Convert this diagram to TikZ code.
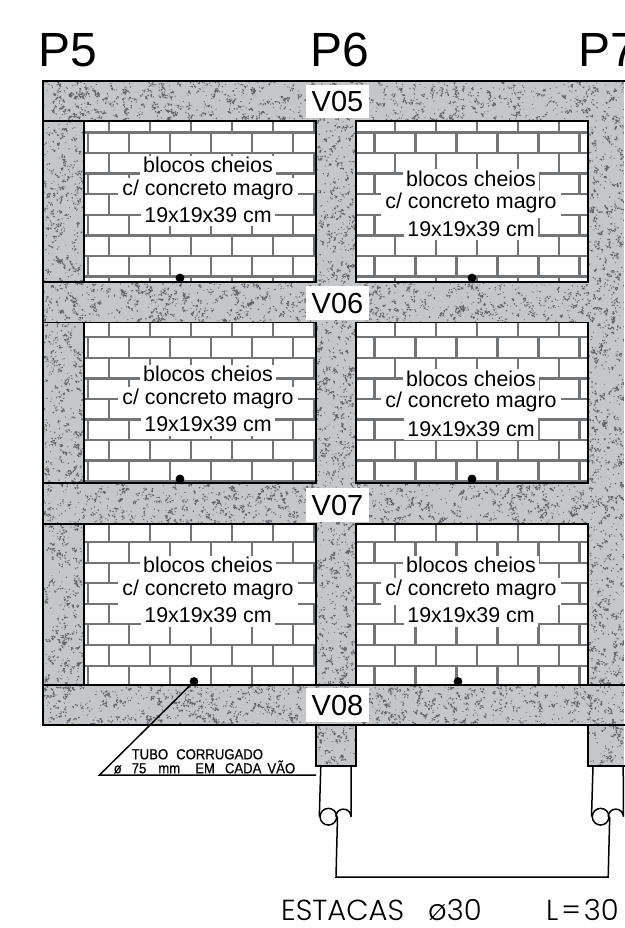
\documentclass[tikz,border=0pt]{standalone}
\usepackage{fontspec}
\setmainfont{Liberation Sans}
\newfontfamily\cadsmall[FakeStretch=0.9,FakeBold=0.6]{Liberation Sans}
\newfontfamily\cadthin{Poppins Light}
\definecolor{concretegray}{HTML}{C5C6C8}
\definecolor{speckgray}{HTML}{626366}
\definecolor{mortargray}{HTML}{737476}
\tikzset{
  speck/.style={fill=speckgray},
  outline/.style={draw=black,line width=1.7pt},
  thinline/.style={draw=black,line width=1.5pt},
  mortar/.style={draw=mortargray,line width=2.1pt},
  pipedot/.style={circle,fill=black,inner sep=0pt,minimum size=8.8pt},
  beamlabel/.style={fill=white,minimum width=63pt,minimum height=33.5pt,inner sep=0pt,text height=21pt,text depth=0pt,font=\fontsize{29}{30}\selectfont},
  bigp/.style={anchor=base west,inner sep=0pt,font=\fontsize{48}{50}\selectfont},
  blockline/.style={anchor=base,inner sep=0pt,font=\fontsize{21.4}{24}\selectfont},
  tubetext/.style={anchor=base west,inner sep=0pt,font=\cadsmall\fontsize{14.6}{15}\selectfont},
  stakes/.style={anchor=base west,inner sep=0pt,font=\cadthin\fontsize{29}{30}\selectfont},
  loopc/.style={circle,draw=black,line width=1.5pt,minimum size=16.7pt,inner sep=0pt},
}
\newcommand{\shard}{++({rand*2.6},{rand*2.6}) -- ++({1.0+1.6*rnd},{-.9*rnd}) -- ++({-1.1*rnd},{1.0+1.6*rnd}) -- cycle}
% speckle: x y w h n(single) m(cluster)
\newcommand{\stip}[6]{%
  \fill[speck] foreach \i in {1,...,#5}{ ({#1+rnd*#3},{#2+rnd*#4}) -- ++({.8+1.2*rnd},{-.7*rnd}) -- ++({-.9*rnd},{.8+1.2*rnd}) -- cycle };
  \fill[speck] foreach \i in {1,...,#6}{ ({#1+rnd*#3},{#2+rnd*#4}) \shard{} \shard{} \shard{} \shard{} };
}
% vertical joints: x0, count, ya, yb
\newcommand{\joints}[4]{%
  \foreach \k in {0,...,#2}{\draw[mortar] ({#1+41*\k},#3) -- ({#1+41*\k},#4);}%
}
% brick panel: left x, top y, bottom y, main start, main last idx, alt start, alt last idx, course list
\newcommand{\panel}[8]{%
  \fill[white] (#1,#2) rectangle (#1+232,#3);
  \foreach \ya/\yb/\st in #8{%
    \draw[mortar] (#1,\yb) -- (#1+232,\yb);
    \ifnum\st=0 \joints{#4}{#5}{\ya}{\yb}\else \joints{#6}{#7}{\ya}{\yb}\fi
  }%
}
% text block: name, cx, base1, base2, base3
\newcommand{\block}[5]{%
  \fill[white] (#2-68,#3-17) rectangle (#2+68,#4-17);
  \fill[white] (#2-90,#4-17) rectangle (#2+90,#5-18);
  \fill[white] (#2-67,#5-18) rectangle (#2+67,#5+4);
  \node[blockline] (#1a) at (#2,#3) {blocos cheios};
  \node[blockline] (#1b) at (#2,#4) {c/ concreto magro};
  \node[blockline] (#1c) at (#2,#5) {19x19x39 cm};
}
\def\coursesA{121/132.5/0,132.5/153/1,153/173.5/0,173.5/194/1,194/215/0,215/235.5/1,235.5/256/0,256/276.5/1,276.5/282/0}
\def\coursesB{322.5/337.3/0,337.3/358/1,358/378.5/0,378.5/399/1,399/419.5/0,419.5/440/1,440/460.5/0,460.5/481/1,481/483/0}
\def\coursesC{524/542.3/0,542.3/563/1,563/583.3/0,583.3/604/1,604/624.3/0,624.3/645/1,645/665.7/0,665.7/685/1}
\begin{document}
\begin{tikzpicture}[x=1pt,y=-1pt]
\useasboundingbox (0,0) rectangle (624,928);
% concrete
\begin{scope}
  \clip (43,81) rectangle (624,725) (316,725) rectangle (356,766) (588,725) rectangle (624,766);
  \fill[concretegray] (43,81) rectangle (624,766);
  \pgfmathsetseed{7}
  \stip{43}{81}{581}{40}{520}{300}
  \stip{43}{282}{581}{40}{520}{300}
  \stip{43}{483}{581}{41}{520}{300}
  \stip{43}{685}{581}{40}{520}{300}
  \foreach \yy in {121,322,524}{%
    \stip{43}{\yy}{41}{162}{140}{80}
    \stip{316}{\yy}{40}{162}{140}{80}
    \stip{588}{\yy}{36}{162}{125}{72}
  }
  \stip{316}{725}{40}{41}{36}{20}
  \stip{588}{725}{36}{41}{32}{18}
\end{scope}
% brick panels
\panel{84}{121}{282}{109}{5}{88}{5}{\coursesA}
\panel{356}{121}{282}{395}{4}{374.5}{5}{\coursesA}
\panel{84}{322.5}{483}{109}{5}{88}{5}{\coursesB}
\panel{356}{322.5}{483}{395}{4}{374.5}{5}{\coursesB}
\panel{84}{524}{685}{109}{5}{88}{5}{\coursesC}
\panel{356}{524}{685}{395}{4}{374.5}{5}{\coursesC}
% text blocks
\block{ta}{208}{172.7}{195}{222.3}
\block{tb}{471}{186}{208.3}{236}
\block{tc}{208}{381.7}{404}{431.7}
\block{td}{471}{386}{407.7}{436}
\block{te}{208}{572.7}{595}{622.7}
\block{tf}{471}{572.7}{595}{622.7}
% outlines
\draw[outline] (84,121) rectangle (316,282);
\draw[outline] (356,121) rectangle (588,282);
\draw[outline] (84,322.5) rectangle (316,483);
\draw[outline] (356,322.5) rectangle (588,483);
\draw[outline] (84,524) rectangle (316,685);
\draw[outline] (356,524) rectangle (588,685);
\draw[outline] (630,81) -- (43,81) -- (43,725) -- (630,725);
\draw[outline] (43,121) -- (84,121);
\draw[outline] (43,282) -- (84,282);
\draw[outline] (43,322.5) -- (84,322.5);
\draw[outline] (43,483) -- (84,483);
\draw[outline] (43,524) -- (84,524);
\draw[outline] (43,685) -- (630,685);
\draw[outline] (316,725) -- (316,766) -- (356,766) -- (356,725);
\draw[outline] (630,766) -- (588,766) -- (588,725);
% labels
\node[bigp] (p5) at (38,66.7) {P5};
\node[bigp] (p6) at (310,66.7) {P6};
\node[bigp] (p7) at (578,66.7) {P7};
\node[beamlabel] (v05) at (337.5,101.5) {V05};
\node[beamlabel] (v06) at (337.5,303) {V06};
\node[beamlabel] (v07) at (337.5,505) {V07};
\node[beamlabel] (v08) at (337.5,705) {V08};
% pipe dots
\node[pipedot] (d1) at (180,278) {};
\node[pipedot] (d2) at (472,278) {};
\node[pipedot] (d3) at (180,479) {};
\node[pipedot] (d4) at (472,479) {};
\node[pipedot] (d5) at (194,681.5) {};
\node[pipedot] (d6) at (458,681.5) {};
% tube leader
\coordinate (leadA) at (99.5,775);
\coordinate (leadB) at (316,775);
\draw[thinline] (d5.center) -- (leadA) -- (leadB);
\node[tubetext] (tube1) at (131.5,759.3) {TUBO\hspace{8pt}CORRUGADO};
\node[tubetext] (tube2) at (113.5,773.3) {ø\hspace{10pt}75\hspace{12pt}mm\hspace{15pt}EM\hspace{10pt}CADA\hspace{6pt}VÃO};
% piles
\coordinate (l1) at (320.8,766);
\coordinate (l2) at (351,766);
\coordinate (r1) at (593,766);
\coordinate (r2) at (623.2,766);
\coordinate (legL) at (336,877);
\coordinate (legR) at (608.2,877);
\node[loopc] (loopL) at (328.4,816.7) {};
\node[loopc] (loopR) at (600.6,816.7) {};
\draw[thinline] (l1) -- (loopL.west);
\draw[thinline] (l2) -- (351,816.7) arc[start angle=360,end angle=180,radius=7.6];
\draw[thinline] (r1) -- (loopR.west);
\draw[thinline] (r2) -- (623.4,816.7) arc[start angle=360,end angle=180,radius=7.6];
\draw[thinline] (loopL.east) -- (legL) -- (legR) -- (loopR.east);
% stakes text
\node[stakes] (st1) at (281,920) {ESTACAS};
\node[stakes] (st2) at (428,920) {ø30};
\node[stakes] (st3) at (546,920) {L\hspace{3pt}=\hspace{3pt}30};
\end{tikzpicture}
\end{document}
